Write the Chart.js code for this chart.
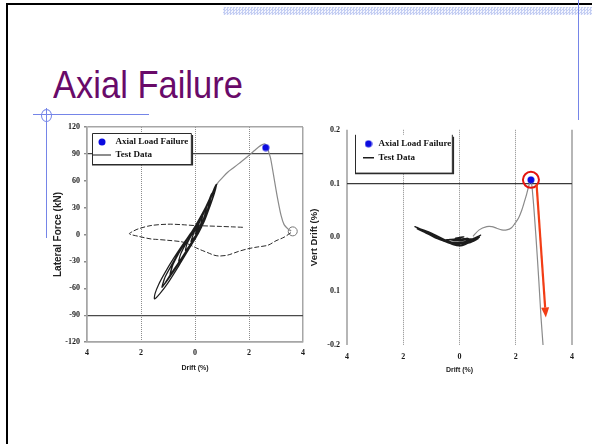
<!DOCTYPE html>
<html>
<head>
<meta charset="utf-8">
<title>Axial Failure</title>
<script src="https://cdn.jsdelivr.net/npm/chart.js@4.4.1/dist/chart.umd.min.js"></script>
<style>
  html, body { margin: 0; padding: 0; background: #fff; }
  .slide { position: relative; width: 592px; height: 444px; overflow: hidden; background: #fff; }
  .edge-top { position: absolute; left: 6px; top: 3px; width: 586px; height: 2px; background: #000; }
  .edge-left { position: absolute; left: 6px; top: 3px; width: 2px; height: 441px; background: #000; }
  .band {
    position: absolute; left: 223px; top: 7px; width: 369px; height: 8px;
    background-image: repeating-conic-gradient(#c4cef3 0 25%, #f3f5fe 0 50%);
    background-size: 3px 3px;
  }
  .rule { position: absolute; background: #7585e8; }
  .ring { position: absolute; left: 41px; top: 109px; width: 9px; height: 11px; border: 1px solid #7585e8; border-radius: 50%; }
  h1 {
    position: absolute; left: 53px; top: 65px; margin: 0;
    font: normal 39px/1 "Liberation Sans", Arial, sans-serif;
    color: #690a69; white-space: nowrap;
    transform: scaleX(0.885); transform-origin: left top;
  }
  #forceChart { position: absolute; left: 40px; top: 118px; }
  #vertChart { position: absolute; left: 300px; top: 118px; }
</style>
</head>
<body>
<div class="slide">
  <div class="edge-top"></div>
  <div class="edge-left"></div>
  <div class="band"></div>
  <div class="rule" style="left:578px; top:0; width:1px; height:120px;"></div>
  <div class="rule" style="left:33px; top:114px; width:116px; height:1px;"></div>
  <div class="rule" style="left:46px; top:108px; width:1px; height:130px;"></div>
  <div class="ring"></div>
  <h1>Axial Failure</h1>
  <canvas id="forceChart" width="272" height="262"></canvas>
  <canvas id="vertChart" width="292" height="262"></canvas>
</div>
<script>
// --- lateral force vs drift ---
const failureDrift = [2.62];
const failureForce = [97];

// small cycles before failure
const cycleDrift = [0, 0.08, 0.15, 0.1, 0.03, -0.08, -0.15, -0.1, -0.02,
  0.1, 0.2, 0.3, 0.24, 0.14, 0.02, -0.15, -0.35, -0.3, -0.17, -0.02, 0.15, 0.3,
  0.45, 0.38, 0.25, 0.1, -0.1, -0.35, -0.6, -0.52, -0.35, -0.15, 0.05, 0.25, 0.45,
  0.6, 0.52, 0.38, 0.2, 0.0, -0.3, -0.6, -0.9, -0.82, -0.6, -0.35, -0.1, 0.15, 0.4, 0.6,
  0.62, 0.55, 0.4, 0.22, 0.02, -0.28, -0.58, -0.92, -0.85, -0.62, -0.36, -0.12, 0.14, 0.4, 0.62,
  0.75, 0.68, 0.52, 0.32, 0.1, -0.2, -0.55, -0.9, -1.2, -1.1, -0.85, -0.55, -0.25, 0.05, 0.35, 0.6, 0.74,
  0.76, 0.7, 0.54, 0.33, 0.11, -0.2, -0.56, -0.92, -1.22, -1.13, -0.88, -0.57, -0.27, 0.03, 0.34, 0.6, 0.76,
  0.8, 0.72, 0.55, 0.35, 0.12, -0.2, -0.6, -1.0, -1.3, -1.5, -1.48, -1.35, -1.1, -0.8, -0.45, -0.1, 0.25, 0.55, 0.74];
const cycleForce = [0, 6, 12, 5, -1, -5, -8, -3, 3,
  9, 16, 24, 15, 5, -4, -10, -18, -11, -3, 5, 14, 22,
  34, 24, 12, 0, -10, -20, -30, -21, -11, -1, 10, 22, 33,
  45, 34, 21, 8, -4, -18, -31, -44, -34, -21, -8, 4, 17, 31, 44,
  46, 36, 22, 9, -3, -17, -30, -45, -36, -22, -9, 3, 16, 31, 45,
  54, 44, 30, 15, 2, -13, -30, -46, -58, -47, -33, -17, -3, 11, 27, 42, 52,
  55, 45, 31, 16, 3, -12, -29, -45, -59, -49, -35, -18, -4, 10, 26, 42, 54,
  56, 46, 31, 15, 1, -15, -35, -54, -66, -72, -66, -56, -42, -27, -11, 4, 21, 38, 52];

// push to failure and drop-off
const envelopeDrift = [0.74, 0.85, 1.0, 1.21, 1.45, 1.7, 1.95, 2.19, 2.44, 2.6, 2.68, 2.75, 2.8, 2.9, 3.0, 3.06, 3.19, 3.3, 3.45, 3.56];
const envelopeForce = [52, 58, 63, 69.5, 75, 81, 87, 93.5, 99.5, 101, 97, 90, 85, 68, 50, 40, 21, 11, 6, 4];

// return sweep after failure
const returnDrift = [3.55, 3.3, 3.0, 2.7, 2.3, 1.95, 1.6, 1.21, 0.9, 0.7, 0.45, 0.2, -0.02, -0.3, -0.52, -1.0, -1.4, -1.63, -2.1, -2.43,
  -2.3, -2.1, -1.63, -1.0, -0.5, -0.02, 0.5, 0.96, 1.4, 1.8];
const returnForce = [2, -3, -7, -12, -14, -16, -19, -23, -24, -23, -20, -17, -14, -10, -8, -6.5, -5.5, -5, -2, 0.8,
  3.5, 6.3, 10, 11.5, 11, 10, 9.5, 9, 8.5, 8];

const reversalDrift = [3.62];
const reversalForce = [3.5];

// --- vertical drift vs drift ---
const vFailureDrift = [2.54];
const vFailureVert = [0.107];

const vCycleDrift = [0, 0.15, -0.15, 0, 0.3, -0.35, 0, 0.45, -0.6, -0.2,
  0.2, 0.6, 0.3, -0.2, -0.9, -0.6, -0.2, 0.2, 0.7, 0.4,
  0, -0.5, -1.2, -0.9, -0.4, 0.1, 0.5, 0.75, 0.5, 0.1,
  -0.4, -1.0, -1.58, -1.4, -1.0, -0.6, -0.2, 0.1, 0.4, 0.7,
  0.45, 0.1, -0.3, -0.8, -1.25, -1.5, -1.2, -0.8, -0.4, 0.0, 0.35, 0.68];
const vCycleVert = [0, 0.001, -0.002, -0.003, -0.002, -0.004, -0.006, -0.003, -0.005, -0.009,
  -0.008, -0.002, -0.008, -0.012, 0.0, -0.006, -0.013, -0.01, 0.0, -0.006,
  -0.013, -0.008, 0.01, 0.002, -0.01, -0.012, -0.004, 0.004, -0.002, -0.01,
  -0.009, 0.005, 0.02, 0.016, 0.008, -0.004, -0.014, -0.015, -0.008, 0.002,
  -0.004, -0.011, -0.011, -0.002, 0.01, 0.016, 0.012, 0.003, -0.007, -0.012, -0.01, -0.002];

const vTrailDrift = [0.48, 0.7, 0.97, 1.15, 1.32, 1.5, 1.68, 1.85, 1.97, 2.1, 2.21, 2.3, 2.39, 2.47, 2.54, 2.62, 2.72, 2.82, 2.9, 2.97, 3.02];
const vTrailVert = [0.002, 0.014, 0.02, 0.02, 0.017, 0.014, 0.014, 0.018, 0.026, 0.036, 0.05, 0.065, 0.081, 0.097, 0.107, 0.07, 0.0, -0.08, -0.15, -0.2, -0.24];

// arrow showing the collapse (drift %, vert drift %)
const arrowFrom = [2.74, 0.099];
const arrowTo = [3.07, -0.149];

const driftTickLabels = ['4', '2', '0', '2', '4'];
const forceTickLabels = ['-120', '-90', '-60', '-30', '0', '30', '60', '90', '120'];
const vertTickLabels = ['-0.2', '0.1', '0.0', '0.1', '0.2'];

Chart.defaults.font.family = '"Liberation Sans", Arial, sans-serif';
Chart.defaults.color = '#1a1a1a';

const pts = (xs, ys) => xs.map((x, i) => ({x: x, y: ys[i]}));

function dotImage(color, size) {
  const c = document.createElement('canvas');
  c.width = size;
  c.height = size;
  const g = c.getContext('2d');
  g.fillStyle = color;
  g.beginPath();
  g.arc(size / 2, size / 2, size / 2 - 0.5, 0, Math.PI * 2);
  g.fill();
  return c;
}
const blueDot = dotImage('#0b0be0', 8);

const tickFont = { family: '"Liberation Serif", "Times New Roman", serif', size: 8, weight: 'bold' };
const legendFont = { family: '"Liberation Serif", "Times New Roman", serif', size: 9, weight: 'bold' };

// moves the chartArea legend and draws the framed white box behind it
const legendFrame = {
  id: 'legendFrame',
  afterLayout(chart, args, o) {
    const lg = chart.legend, a = chart.chartArea;
    lg.left = a.left + o.dx;
    lg.top = a.top + o.dy;
    lg.right = lg.left + lg.width;
    lg.bottom = lg.top + lg.height;
  },
  afterDraw(chart, args, o) {
    const hb = chart.legend.legendHitBoxes;
    if (!hb || !hb.length) return;
    const ctx = chart.ctx;
    const l = Math.min(...hb.map(h => h.left)) - o.pad[0];
    const t = Math.min(...hb.map(h => h.top)) - o.pad[1];
    const r = Math.max(...hb.map(h => h.left + h.width)) + o.pad[2];
    const b = Math.max(...hb.map(h => h.top + h.height)) + o.pad[3];
    ctx.save();
    ctx.fillStyle = '#fff';
    ctx.fillRect(l, t, r - l, b - t);
    ctx.strokeStyle = '#2b2b2b';
    ctx.lineWidth = 1;
    ctx.beginPath();
    if (o.openTop) {
      ctx.moveTo(l + 0.5, t);
      ctx.lineTo(l + 0.5, b - 0.5);
      ctx.lineTo(r - 0.5, b - 0.5);
      ctx.lineTo(r - 0.5, t);
    } else {
      ctx.rect(l + 0.5, t + 0.5, r - l - 1, b - t - 1);
    }
    ctx.stroke();
    // heavier lower edge
    ctx.lineWidth = 1.5;
    ctx.beginPath();
    ctx.moveTo(l, b - 0.2);
    ctx.lineTo(r + 0.5, b - 0.2);
    ctx.lineTo(r + 0.5, t + 2);
    ctx.stroke();
    ctx.restore();
    chart.legend.draw();
  }
};

const legendOptions = (boxW, pad) => ({
  position: 'chartArea',
  align: 'start',
  labels: {
    usePointStyle: true,
    pointStyleWidth: boxW,
    padding: pad,
    color: '#111',
    font: legendFont,
    filter: item => item.datasetIndex < 2
  }
});

// ---------------- left: lateral force ----------------
new Chart(document.getElementById('forceChart'), {
  type: 'scatter',
  data: {
    datasets: [
      { label: 'Axial Load Failure', data: pts(failureDrift, failureForce), pointStyle: blueDot,
        backgroundColor: '#0b0be0', borderColor: '#0b0be0', pointRadius: 4 },
      { label: 'Test Data', data: pts(cycleDrift, cycleForce), showLine: true, borderColor: '#1c1c1c',
        borderWidth: 1.2, pointRadius: 0, pointStyle: 'line', tension: 0.25 },
      { label: 'envelope', data: pts(envelopeDrift, envelopeForce), showLine: true, borderColor: '#8a8a8a',
        borderWidth: 1.2, pointRadius: 0, tension: 0.3 },
      { label: 'return', data: pts(returnDrift, returnForce), showLine: true, borderColor: '#2a2a2a',
        borderWidth: 1, borderDash: [5, 2], pointRadius: 0, tension: 0.3 },
      { label: 'reversal', data: pts(reversalDrift, reversalForce), pointRadius: 4.5,
        pointBackgroundColor: '#fff', pointBorderColor: '#777', pointBorderWidth: 1 }
    ]
  },
  options: {
    responsive: false,
    animation: false,
    layout: { padding: { top: 9, right: 9, left: 0, bottom: 0 } },
    scales: {
      x: {
        min: -4, max: 4,
        ticks: { stepSize: 2, font: tickFont, padding: 6, callback: (v, i) => driftTickLabels[i] },
        grid: {
          color: c => Math.abs(c.tick?.value) === 4 ? '#a6a6a6' : '#8c8c8c',
          lineWidth: c => Math.abs(c.tick?.value) === 4 ? 1.5 : 1,
          drawTicks: false
        },
        border: { color: '#a6a6a6', width: 1.5, dash: c => (c.tick && Math.abs(c.tick.value) < 4) ? [1, 1] : [] },
        title: { display: true, text: 'Drift (%)', font: { size: 7, weight: 'bold' }, color: '#222', padding: { top: 0, bottom: 8 } },
        afterFit: s => { s.height = 38; }
      },
      y: {
        min: -120, max: 120,
        ticks: { stepSize: 30, font: tickFont, padding: 4, callback: (v, i) => forceTickLabels[i] },
        grid: {
          color: c => {
            const v = Math.abs(c.tick?.value);
            if (v === 120) return '#a6a6a6';
            if (v === 90) return '#4a4a4a';
            return 'rgba(0,0,0,0)';
          },
          lineWidth: c => Math.abs(c.tick?.value) === 90 ? 1.2 : 1.5,
          tickLength: 3,
          tickColor: '#8c8c8c'
        },
        border: { color: '#a6a6a6', width: 1.5 },
        title: { display: true, text: 'Lateral Force (kN)', font: { size: 10, weight: 'bold' }, color: '#222', padding: { top: 12, bottom: 0 } },
        afterFit: s => { s.width = 47; }
      }
    },
    plugins: {
      legend: legendOptions(18, 4),
      legendFrame: { dx: 2, dy: 6.5, pad: [1, 4.5, 3.5, 5.5], openTop: false },
      tooltip: { enabled: false }
    }
  },
  plugins: [legendFrame]
});

// ---------------- right: vertical drift ----------------
const collapseMark = {
  id: 'collapseMark',
  afterDatasetsDraw(chart) {
    const {ctx, scales: {x, y}} = chart;
    const cx = x.getPixelForValue(vFailureDrift[0]);
    const cy = y.getPixelForValue(vFailureVert[0]);
    ctx.save();
    ctx.strokeStyle = '#e3140f';
    ctx.lineWidth = 2;
    ctx.beginPath();
    ctx.arc(cx, cy, 8, 0, Math.PI * 2);
    ctx.stroke();

    const x0 = x.getPixelForValue(arrowFrom[0]), y0 = y.getPixelForValue(arrowFrom[1]);
    const x1 = x.getPixelForValue(arrowTo[0]), y1 = y.getPixelForValue(arrowTo[1]);
    const ang = Math.atan2(y1 - y0, x1 - x0);
    const head = 10, half = 4;
    const bx = x1 - head * Math.cos(ang), by = y1 - head * Math.sin(ang);
    ctx.strokeStyle = '#f23d15';
    ctx.fillStyle = '#f23d15';
    ctx.lineWidth = 2.2;
    ctx.beginPath();
    ctx.moveTo(x0, y0);
    ctx.lineTo(bx, by);
    ctx.stroke();
    ctx.beginPath();
    ctx.moveTo(x1, y1);
    ctx.lineTo(bx + half * Math.sin(ang), by - half * Math.cos(ang));
    ctx.lineTo(bx - half * Math.sin(ang), by + half * Math.cos(ang));
    ctx.closePath();
    ctx.fill();
    ctx.restore();
  }
};

new Chart(document.getElementById('vertChart'), {
  type: 'scatter',
  data: {
    datasets: [
      { label: 'Axial Load Failure', data: pts(vFailureDrift, vFailureVert), pointStyle: blueDot,
        backgroundColor: '#0b0be0', borderColor: '#0b0be0', pointRadius: 4 },
      { label: 'Test Data', data: pts(vCycleDrift, vCycleVert), showLine: true, borderColor: '#1c1c1c',
        borderWidth: 1.4, pointRadius: 0, pointStyle: 'line', tension: 0.25 },
      { label: 'trail', data: pts(vTrailDrift, vTrailVert), showLine: true, borderColor: '#8a8a8a',
        borderWidth: 1.2, pointRadius: 0, tension: 0.3 }
    ]
  },
  options: {
    responsive: false,
    animation: false,
    layout: { padding: { top: 9, right: 20, left: 0, bottom: 0 } },
    scales: {
      x: {
        min: -4, max: 4,
        ticks: { stepSize: 2, font: tickFont, padding: 7, callback: (v, i) => driftTickLabels[i] },
        grid: {
          color: c => Math.abs(c.tick?.value) === 4 ? '#b6b6b6' : '#8c8c8c',
          lineWidth: c => Math.abs(c.tick?.value) === 4 ? 2 : 1,
          drawTicks: false
        },
        border: { display: false, dash: c => (c.tick && Math.abs(c.tick.value) < 4) ? [1, 1] : [] },
        title: { display: true, text: 'Drift (%)', font: { size: 7, weight: 'bold' }, color: '#222', padding: { top: 0, bottom: 6 } },
        afterFit: s => { s.height = 35; }
      },
      y: {
        min: -0.2, max: 0.2,
        ticks: { stepSize: 0.1, font: tickFont, padding: 7, callback: (v, i) => vertTickLabels[i] },
        grid: {
          color: c => Math.abs((c.tick?.value ?? 0) - 0.1) < 1e-6 ? '#3a3a3a' : 'rgba(0,0,0,0)',
          lineWidth: 1.2,
          drawTicks: false
        },
        border: { display: false },
        title: { display: true, text: 'Vert Drift (%)', font: { size: 9.5, weight: 'bold' }, color: '#222', padding: { top: 9, bottom: 0 } },
        afterFit: s => { s.width = 47; }
      }
    },
    plugins: {
      legend: legendOptions(11, 5),
      legendFrame: { dx: 11, dy: 4.5, pad: [8, 4.5, 1.5, 11.5], openTop: true },
      tooltip: { enabled: false }
    }
  },
  plugins: [legendFrame, collapseMark]
});
</script>
</body>
</html>
